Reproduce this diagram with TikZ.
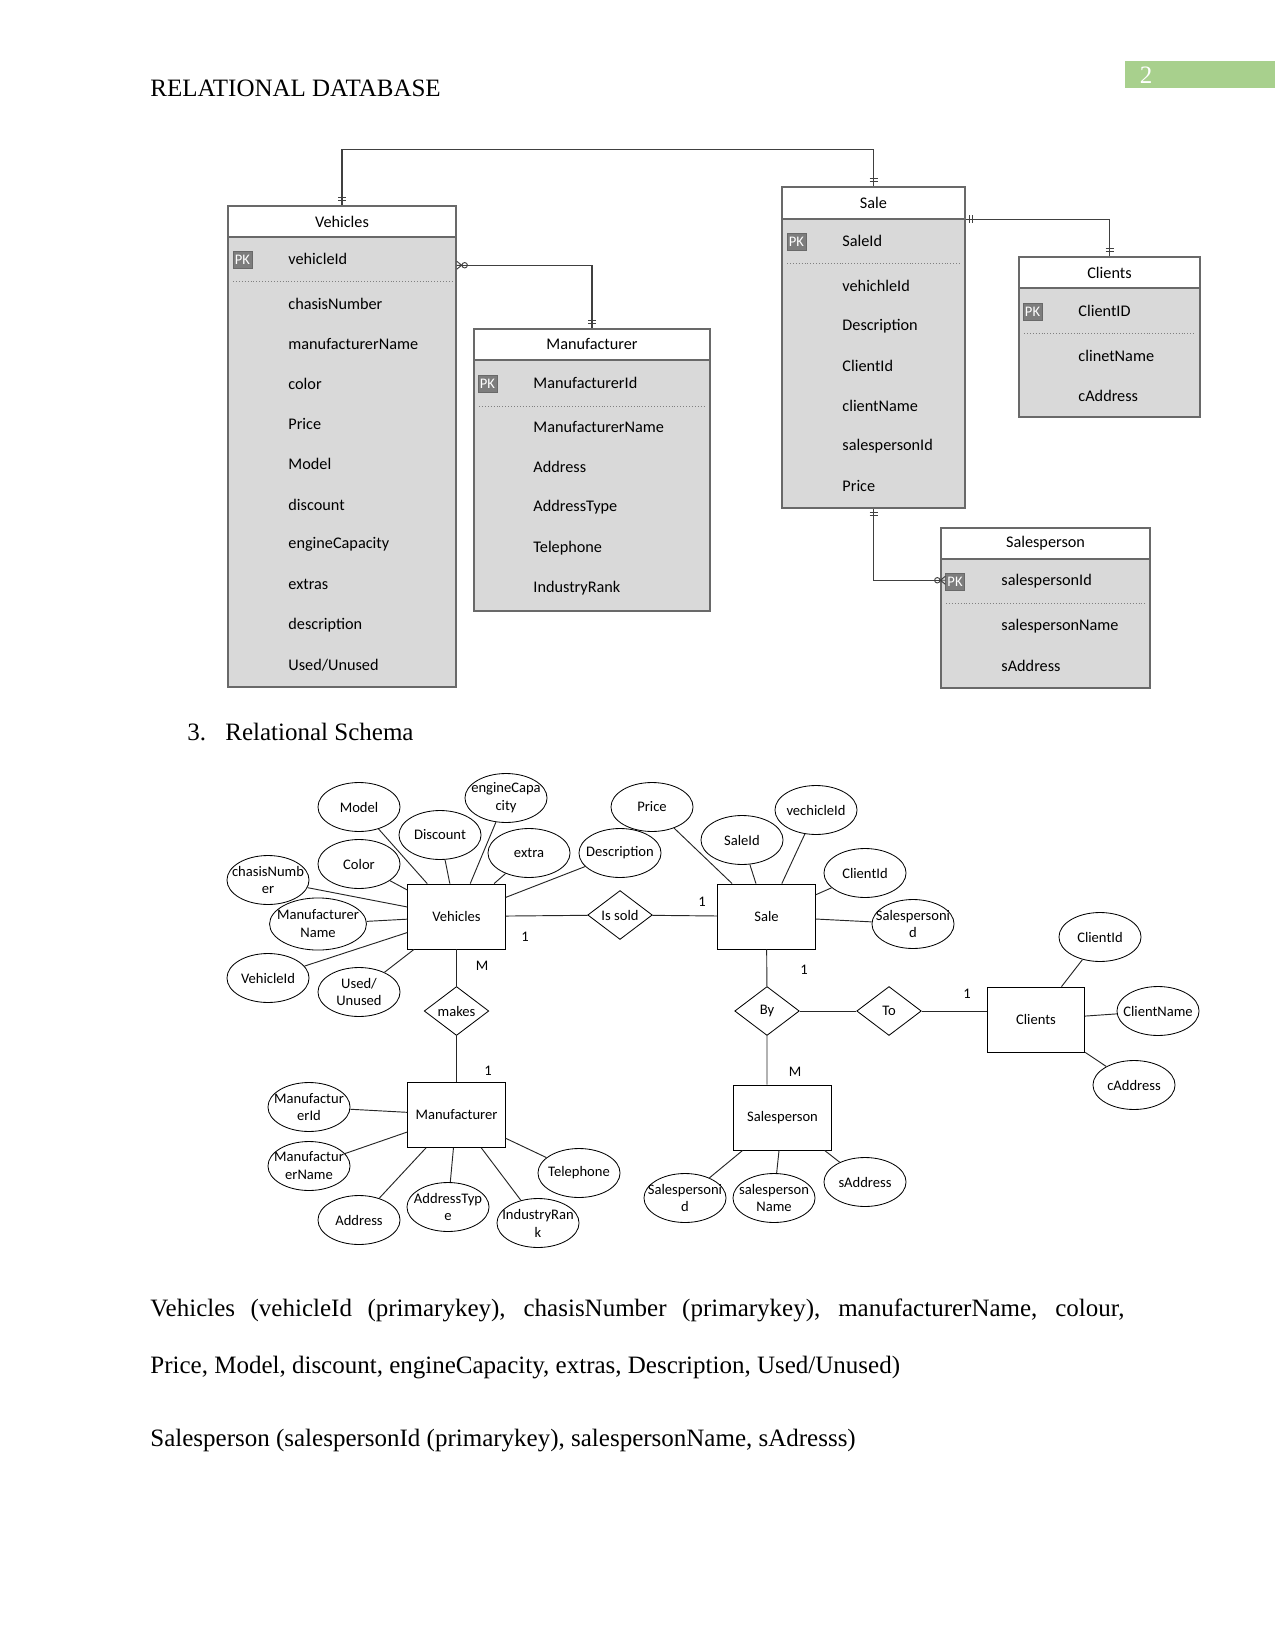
\documentclass[tikz,border=0pt]{standalone}
\usepackage{fontspec}
\setmainfont{Liberation Serif}
\newfontfamily\erfont{Carlito}
\usetikzlibrary{shapes.geometric,calc}
\definecolor{tabgray}{RGB}{217,217,217}
\definecolor{tabedge}{RGB}{105,105,105}
\definecolor{pkgray}{RGB}{125,125,125}
\definecolor{pagegreen}{RGB}{168,208,141}
\tikzset{
  body/.style={anchor=base west,inner sep=0pt,font=\fontsize{12}{14}\selectfont},
  tab/.style={draw=tabedge,fill=tabgray,line width=0.7pt,inner sep=0pt},
  tabhead/.style={draw=tabedge,fill=white,line width=0.7pt,inner sep=0pt,anchor=north,font=\erfont\fontsize{7.8}{9.4}\selectfont},
  row/.style={anchor=west,inner sep=0pt,font=\erfont\fontsize{7.8}{9.4}\selectfont},
  pk/.style={draw=tabedge,fill=pkgray,text=white,inner sep=0pt,minimum width=9.1pt,minimum height=8.2pt,font=\erfont\fontsize{7}{8}\selectfont},
  keyline/.style={densely dotted,draw=gray,line width=0.4pt},
  conn/.style={draw=black!75,line width=0.6pt},
  ent/.style={draw,rectangle,minimum width=46.8pt,minimum height=31.2pt,inner sep=0pt,font=\erfont\fontsize{7}{8.6}\selectfont},
  rel/.style={draw,diamond,aspect=1.35,inner sep=0pt,minimum width=31pt,minimum height=23.5pt,font=\erfont\fontsize{7}{8.6}\selectfont},
  attr/.style={draw,ellipse,minimum width=39.4pt,minimum height=23.5pt,inner sep=0pt},
  attrtext/.style={align=center,inner sep=0pt,font=\erfont\fontsize{7}{8.6}\selectfont},
  card/.style={inner sep=0pt,font=\erfont\fontsize{7}{8.6}\selectfont},
  erline/.style={draw=black!85,line width=0.45pt}
}

\begin{document}
\begin{tikzpicture}[x=0.48pt,y=-0.48pt]
\useasboundingbox (0,0) rectangle (1275,1650);
% page header
\fill[pagegreen] (1125,61) rectangle (1275,88);
\node[text=white,inner sep=0pt,font=\fontsize{12}{14}\selectfont] (pgnum) at (1146,75) {2};
\node[body] (title) at (150,97) {RELATIONAL DATABASE};

% ---- tables ----
\node[tab,minimum width=109.4pt,minimum height=230.9pt] (vehTab) at (342,446.5) {};
\node[tabhead,minimum width=109.4pt,minimum height=14.9pt] (vehHead) at (vehTab.north) {Vehicles};
\node[pk] (vehPK) at (242.5,259.5) {PK};
\draw[keyline] (233,281) -- (452,281);
\node[row] (vehKey) at (288,259) {vehicleId};
\foreach \t [count=\i from 0] in {chasisNumber,manufacturerName,color,Price,Model,discount,engineCapacity,extras,description,Used/Unused}
  \node[row] (vehRow\i) at (288,{304+40.1*\i}) {\t};

\node[tab,minimum width=113.3pt,minimum height=135.4pt] (manTab) at (592,470) {};
\node[tabhead,minimum width=113.3pt,minimum height=14.9pt] (manHead) at (manTab.north) {Manufacturer};
\node[pk] (manPK) at (487.5,383.5) {PK};
\draw[keyline] (479,406) -- (706,406);
\node[row] (manKey) at (533,383) {ManufacturerId};
\foreach \t [count=\i from 0] in {ManufacturerName,Address,AddressType,Telephone,IndustryRank}
  \node[row] (manRow\i) at (533,{427+40.3*\i}) {\t};

\node[tab,minimum width=87.8pt,minimum height=154.1pt] (saleTab) at (873.5,347.5) {};
\node[tabhead,minimum width=87.8pt,minimum height=15.4pt] (saleHead) at (saleTab.north) {Sale};
\node[pk] (salePK) at (796.5,241.5) {PK};
\draw[keyline] (787,263) -- (960,263);
\node[row] (saleKey) at (842,241) {SaleId};
\foreach \t [count=\i from 0] in {vehichleId,Description,ClientId,clientName,salespersonId,Price}
  \node[row] (saleRow\i) at (842,{286+40*\i}) {\t};

\node[tab,minimum width=86.9pt,minimum height=76.8pt] (cliTab) at (1109.5,337) {};
\node[tabhead,minimum width=86.9pt,minimum height=14.9pt] (cliHead) at (cliTab.north) {Clients};
\node[pk] (cliPK) at (1032.5,311.5) {PK};
\draw[keyline] (1024,333) -- (1196,333);
\node[row] (cliKey) at (1078,311) {ClientID};
\foreach \t [count=\i from 0] in {clinetName,cAddress}
  \node[row] (cliRow\i) at (1078,{356+40*\i}) {\t};

\node[tab,minimum width=100.3pt,minimum height=76.8pt] (spTab) at (1045.5,608) {};
\node[tabhead,minimum width=100.3pt,minimum height=14.9pt] (spHead) at (spTab.north) {Salesperson};
\node[pk] (spPK) at (955,581.5) {PK};
\draw[keyline] (946,603) -- (1146,603);
\node[row] (spKey) at (1001,581) {salespersonId};
\foreach \t [count=\i from 0] in {salespersonName,sAddress}
  \node[row] (spRow\i) at (1001,{626+40*\i}) {\t};

% ---- table links ----
\draw[conn] (vehTab.north) -- ++(0,-56) -| (saleTab.north);
\draw[conn,shift={(vehTab.north)}] (-4,-5) -- (4,-5) (-4,-8) -- (4,-8);
\draw[conn,shift={(saleTab.north)}] (-4,-5) -- (4,-5) (-4,-8) -- (4,-8);
\coordinate (vm) at ($(vehTab.north east)+(0,60)$);
\draw[conn] (vm) -| (manTab.north);
\draw[conn,shift={(manTab.north)}] (-4,-5) -- (4,-5) (-4,-8) -- (4,-8);
\draw[conn,line width=0.45pt,shift={(vm)}] (0,-4) -- (5,0) -- (0,4) (0,0) -- (5,0) (8,0) circle[radius=1.3pt];
\coordinate (sc) at ($(saleTab.north east)+(0,33)$);
\draw[conn] (sc) -| (cliTab.north);
\draw[conn,shift={(sc)}] (4,-4) -- (4,4) (6.5,-4) -- (6.5,4);
\draw[conn,shift={(cliTab.north)}] (-4,-5) -- (4,-5) (-4,-8) -- (4,-8);
\coordinate (ss) at ($(spTab.north west)+(0,53)$);
\draw[conn] (saleTab.south) |- (ss);
\draw[conn,shift={(saleTab.south)}] (-4,4) -- (4,4) (-4,7) -- (4,7);
\draw[conn,line width=0.45pt,shift={(ss)}] (0,0) -- (5,-4) (0,0) -- (5,4) (0,0) -- (5,0) (-3,0) circle[radius=1.3pt];

% ---- section heading ----
\node[body] (secNum) at (187,740) {3.};
\node[body] (secTitle) at (225,740) {Relational Schema};

% ---- ER diagram ----
\node[ent] (veh) at (456.5,916.5) {Vehicles};
\node[ent] (sale) at (766.5,916.5) {Sale};
\node[ent] (man) at (456.5,1115) {Manufacturer};
\node[ent] (sper) at (782.5,1117.5) {Salesperson};
\node[ent] (cli) at (1036,1019.5) {Clients};

\node[rel] (issold) at (620,915) {Is sold};
\node[rel] (makes) at (456.5,1011) {makes};
\node[rel] (by) at (767,1011) {By};
\node[rel] (to) at (889,1011) {To};

\draw[erline] (veh) -- (issold) -- (sale);
\draw[erline] (veh) -- (makes) -- (man);
\draw[erline] (sale) -- (by) -- (by |- sper.north);
\draw[erline] (by) -- (to) -- (to -| cli.west);

\node[card] (k1) at (525,937) {1};
\node[card] (k2) at (702,902) {1};
\node[card] (k3) at (482,966) {M};
\node[card] (k4) at (804,970) {1};
\node[card] (k5) at (967,994) {1};
\node[card] (k6) at (488,1071) {1};
\node[card] (k7) at (795,1072) {M};

\node[attr,minimum width=46.5pt,minimum height=25pt] (aMname) at (318,924) {};
\node[attrtext] (aMname-t) at (aMname) {Manufacturer\\Name};
\draw[erline] (aMname) -- (veh);
\foreach \nm/\pos/\txt/\ent in {
  aModel/{359,807}/Model/veh,
  aEngine/{506,798}/{engineCapa\\city}/veh,
  aDisc/{440,835}/Discount/veh,
  aExtra/{529,853}/extra/veh,
  aDesc/{620,853}/Description/veh,
  aColor/{359,864}/Color/veh,
  aChasis/{268,880}/{chasisNumb\\er}/veh,
  aVid/{268,978}/VehicleId/veh,
  aUsed/{359,992}/{Used/\\Unused}/veh,
  aPrice/{652,807}/Price/sale,
  aSaleId/{742,840}/SaleId/sale,
  aVech/{816,810}/vechicleId/sale,
  aCid/{865,873}/ClientId/sale,
  aSpid/{913,924}/{Salespersoni\\d}/sale,
  cId/{1100,937}/ClientId/cli,
  cName/{1158,1011}/ClientName/cli,
  cAddr/{1134,1085}/cAddress/cli,
  mId/{309,1107}/{Manufactur\\erId}/man,
  mName/{309,1166}/{Manufactur\\erName}/man,
  mAddr/{359,1220}/Address/man,
  mType/{448,1207}/{AddressTyp\\e}/man,
  mRank/{538,1223}/{IndustryRan\\k}/man,
  mTel/{579,1173}/Telephone/man,
  sId/{685,1198}/{Salespersoni\\d}/sper,
  sName/{774,1198}/{salesperson\\Name}/sper,
  sAddr/{865,1182}/sAddress/sper}
{
  \node[attr] (\nm) at (\pos) {};
  \node[attrtext] (\nm-t) at (\nm) {\txt};
  \draw[erline] (\nm) -- (\ent);
}

% ---- relations text ----
\node[body] (body1) at (150,1316) {\makebox[467.5pt][s]{Vehicles (vehicleId (primarykey), chasisNumber (primarykey), manufacturerName, colour,}};
\node[body] (body2) at (150,1373) {Price, Model, discount, engineCapacity, extras, Description, Used/Unused)};
\node[body] (body3) at (150,1446) {Salesperson (salespersonId (primarykey), salespersonName, sAdresss)};
\end{tikzpicture}
\end{document}
